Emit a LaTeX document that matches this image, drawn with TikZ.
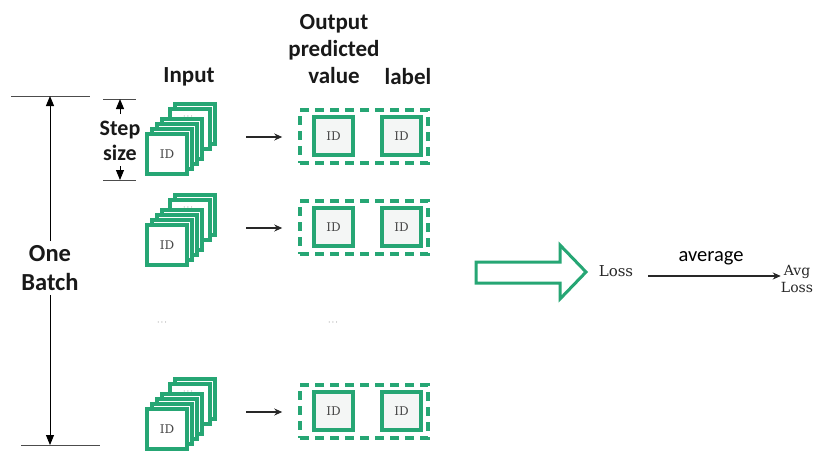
\documentclass[tikz,border=0pt]{standalone}
\usepackage{fontspec}
\setmainfont{Carlito}
\newfontfamily\seriff{DejaVu Serif}
\usetikzlibrary{arrows.meta}
\definecolor{grn}{RGB}{38,166,116}
\definecolor{sqfill}{RGB}{244,246,245}
\definecolor{dk}{RGB}{40,40,40}
\begin{document}
\begin{tikzpicture}[x=1pt,y=-1pt,
 lbl/.style={font=\fontsize{23}{27}\selectfont\bfseries, align=center, inner sep=0pt, text=black!90},
 card/.style={draw=grn, line width=3.3pt, fill=white, minimum width=40pt, minimum height=40pt, inner sep=0pt, font=\seriff\fontsize{12}{14}\selectfont, text=dk!85},
 idbox/.style={draw=grn, line width=3.2pt, fill=sqfill, minimum width=39pt, minimum height=38pt, inner sep=0pt, font=\seriff\fontsize{12}{14}\selectfont, text=dk!85},
 dbox/.style={draw=grn, line width=3.5pt, dash pattern=on 9pt off 6pt, minimum width=128pt, minimum height=53pt, inner sep=0pt},
 conn/.style={draw=dk, line width=1.2pt, -{Stealth[length=8pt,width=7pt]}},
 dimarrow/.style={draw=black, line width=1pt, -{Triangle[length=10pt,width=8pt]}},
 dots/.style={font=\fontsize{8}{8}\selectfont, text=dk, inner sep=0pt}]
\useasboundingbox (0,0) rectangle (815,451);
\fill[white] (0,0) rectangle (815,451);

% headers
\node[lbl] (hin) at (189,77) {Input};
\node[lbl] (hout) at (334,49) {Output\\predicted\\value};
\node[lbl] (hlab) at (408,77) {label};

% One Batch dimension
\draw[line width=0.8pt, black!70] (11,96) -- (90,96);
\draw[line width=0.8pt, black!70] (21,445) -- (100,445);
\node[lbl, font=\fontsize{24.5}{29}\selectfont\bfseries] (batch) at (50,268) {One\\Batch};
\coordinate (btop) at (50,96);
\coordinate (bbot) at (50,445);
\draw[dimarrow] (batch.north) ++(0,-4) -- (btop);
\draw[dimarrow] (batch.south) ++(0,4) -- (bbot);

% Step size dimension
\draw[line width=0.8pt, black!70] (103,99) -- (136,99);
\draw[line width=0.8pt, black!70] (103,180) -- (136,180);
\node[lbl, font=\fontsize{22}{25}\selectfont\bfseries] (step) at (120,141) {Step\\size};
\coordinate (stop) at (120,99);
\coordinate (sbot) at (120,180);
\draw[dimarrow] (120,114) -- (stop);
\draw[dimarrow] (120,166) -- (sbot);

% rows
\foreach \r/\n in {137/1, 228/2, 412/3} {
  \node[card] (a\n) at (195,\r-13) {};
  \node[card] (b\n) at (190,\r-8) {};
  \node[card] (c\n) at (182,\r+2) {};
  \node[card] (d\n) at (177,\r+7) {};
  \node[card] (e\n) at (172,\r+12) {};
  \node[card] (f\n) at (167,\r+17) {ID};
  \node[dots] (bd\n) at (188,\r-20) {$\cdots$};
  \node[dbox] (box\n) at (364,\r-0.5) {};
  \node[idbox] (p\n) at (333.5,\r-1) {ID};
  \node[idbox] (l\n) at (401.5,\r-1) {ID};
  \coordinate (s\n) at (246,\r);
  \draw[conn, shorten >=16pt] (s\n) -- (box\n.west |- s\n);
}

\node[dots] (m1) at (162,323) {$\cdots$};
\node[dots] (m2) at (333,323) {$\cdots$};

% big hollow arrow
\draw[draw=grn, line width=3pt, fill=white, line join=miter]
  (476,262) -- (560,262) -- (560,245) -- (586,272) -- (560,299) -- (560,283) -- (476,283) -- cycle;

% loss
\node[font=\seriff\fontsize{15}{17}\selectfont, text=dk, inner sep=0pt] (loss) at (616,271) {Loss};
\node[font=\seriff\fontsize{14}{17}\selectfont, text=dk, align=center, inner sep=0pt] (avg) at (797,279) {Avg\\Loss};
\node[font=\fontsize{20.5}{22}\selectfont, inner sep=0pt] (avlbl) at (711,258) {average};
\coordinate (ls) at (648,276);
\draw[conn, line width=1.1pt] (ls) -- (avg.west |- ls);
\end{tikzpicture}
\end{document}
